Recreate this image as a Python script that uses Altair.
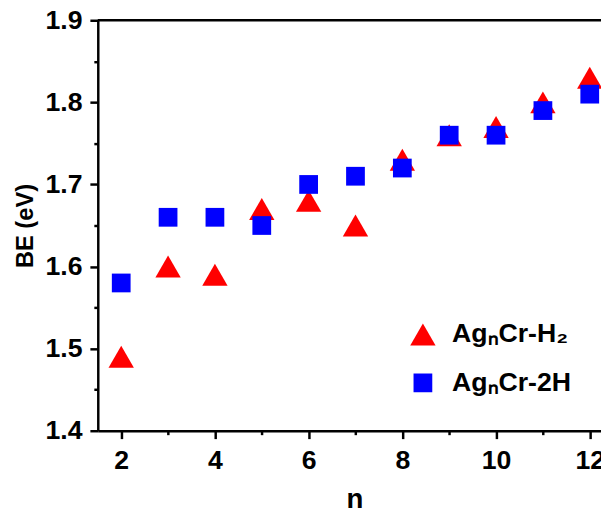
import altair as alt
import pandas as pd

# Data
n_vals = [2, 3, 4, 5, 6, 7, 8, 9, 10, 11, 12]
be_h2 = [1.49, 1.60, 1.59, 1.67, 1.68, 1.65, 1.73, 1.76, 1.77, 1.80, 1.83]
be_2h = [1.58, 1.66, 1.66, 1.65, 1.70, 1.71, 1.72, 1.76, 1.76, 1.79, 1.81]
series = ["Ag\u2099Cr-H\u2082", "Ag\u2099Cr-2H"]
colors = ["#ff0000", "#0000ff"]
shapes = ["triangle-up", "square"]
sizes = [660, 361]

x_ticks = [2, 3, 4, 5, 6, 7, 8, 9, 10, 11, 12]
y_ticks = [1.40, 1.45, 1.50, 1.55, 1.60, 1.65, 1.70, 1.75, 1.80, 1.85, 1.90]

rows = []
for s, vals in ((series[0], be_h2), (series[1], be_2h)):
    for n, v in zip(n_vals, vals):
        rows.append({"n": n, "BE": v, "series": s})
df = pd.DataFrame(rows)

FONT = "Liberation Sans"
W, H = 510, 416

x_scale = alt.Scale(domain=[1.5, 12.24], nice=False, zero=False)
y_scale = alt.Scale(domain=[1.4, 1.9], nice=False, zero=False)

x_axis = alt.Axis(
    values=x_ticks,
    labelExpr="datum.value % 2 === 0 ? datum.label : ''",
    tickSize={"condition": {"test": "datum.value % 2 === 0", "value": 8}, "value": 4},
    labelPadding=9,
    labelFontSize=27,
    title="n",
    titleFontSize=28,
    titlePadding=13,
    titleX=260,
)
y_axis = alt.Axis(
    values=y_ticks,
    labelExpr="round(datum.value * 20) % 2 === 0 ? format(datum.value, '.1f') : ''",
    tickSize={"condition": {"test": "round(datum.value * 20) % 2 === 0", "value": 8}, "value": 4},
    labelPadding=8,
    labelFontSize=27,
    title="BE (eV)",
    titleFontSize=24,
    titlePadding=8,
)

points = alt.Chart(df).mark_point(filled=True, opacity=1, strokeWidth=0).encode(
    x=alt.X("n:Q", scale=x_scale, axis=x_axis),
    y=alt.Y("BE:Q", scale=y_scale, axis=y_axis),
    color=alt.Color(
        "series:N",
        scale=alt.Scale(domain=series, range=colors),
        legend=alt.Legend(
            orient="none",
            legendX=316,
            legendY=305,
            title=None,
            padding=0,
            labelFont=FONT,
            labelFontSize=27,
            labelFontWeight="bold",
            labelColor="black",
            labelOffset=16,
            rowPadding=21,
            symbolStrokeWidth=0,
            symbolOpacity=1,
        ),
    ),
    shape=alt.Shape("series:N", scale=alt.Scale(domain=series, range=shapes)),
    size=alt.Size("series:N", scale=alt.Scale(domain=series, range=sizes)),
)

frame_top = alt.Chart(pd.DataFrame({"v": [1.9]})).mark_rule(
    color="black", strokeWidth=2.5
).encode(
    y=alt.Y("v:Q", scale=y_scale, axis=y_axis),
    x=alt.value(0),
    x2=alt.value(W),
)

chart = alt.layer(points, frame_top).properties(
    width=W,
    height=H,
    autosize=alt.AutoSizeParams(type="none"),
    padding={"left": 91, "top": 9, "right": 0, "bottom": 84},
).configure_view(
    stroke=None
).configure_axis(
    grid=False,
    domainColor="black",
    domainWidth=2.5,
    tickColor="black",
    tickWidth=2.5,
    labelFont=FONT,
    labelFontWeight="bold",
    labelColor="black",
    titleFont=FONT,
    titleFontWeight="bold",
    titleColor="black",
)

chart.save("out.html", embed_options={"renderer": "svg", "actions": False})
